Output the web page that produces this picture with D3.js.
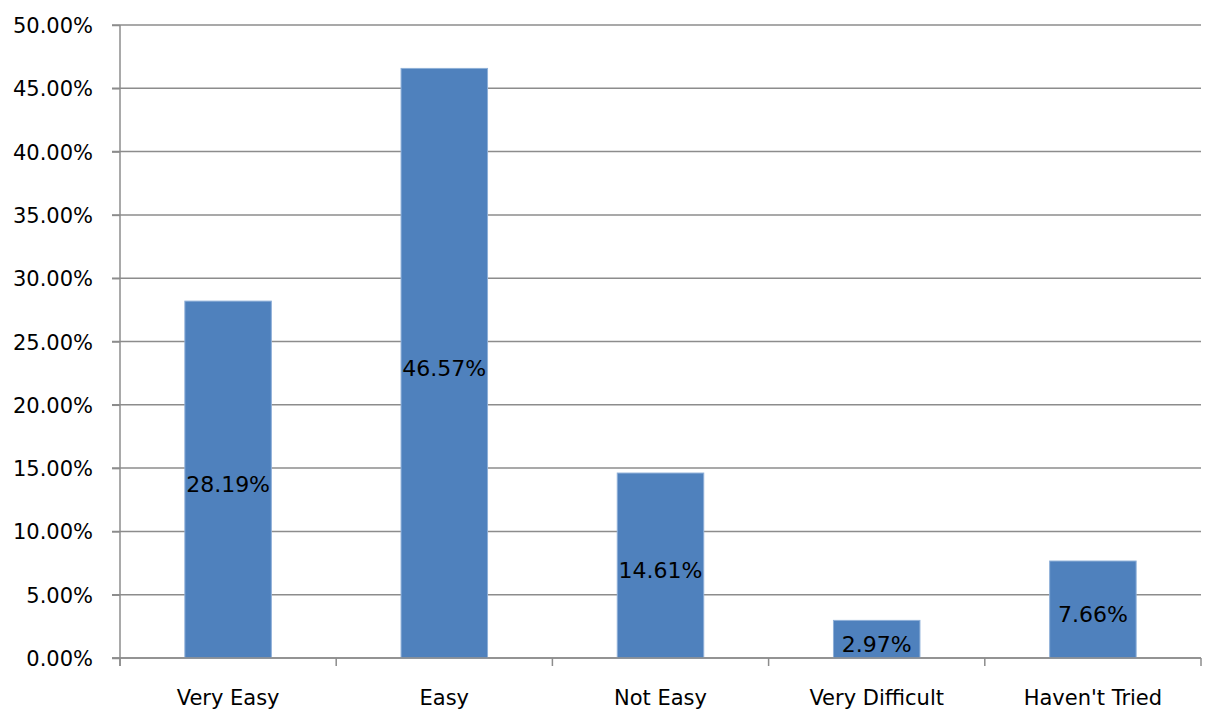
<!DOCTYPE html>
<html>
<head>
<meta charset="utf-8">
<script src="https://cdn.jsdelivr.net/npm/d3@7"></script>
<style>
  body { margin: 0; background: #fff; }
  text { font-family: "DejaVu Sans", sans-serif; fill: #000; }
</style>
</head>
<body>
<svg id="chart" width="1218" height="722"></svg>
<script>
var categories = ["Very Easy", "Easy", "Not Easy", "Very Difficult", "Haven't Tried"];
var values = [28.19, 46.57, 14.61, 2.97, 7.66];
var yTicks = [0, 5, 10, 15, 20, 25, 30, 35, 40, 45, 50];

var margin = { left: 120, right: 17, top: 25, bottom: 64 };
var width = 1218, height = 722;

var svg = d3.select("#chart");

var x = d3.scaleBand()
  .domain(categories)
  .range([margin.left, width - margin.right])
  .paddingInner(0.6)
  .paddingOuter(0.3);

var y = d3.scaleLinear()
  .domain([0, 50])
  .range([height - margin.bottom, margin.top]);

var gridColor = "#8c8c8c";

// gridlines
svg.append("g")
  .selectAll("line")
  .data(yTicks)
  .enter().append("line")
  .attr("x1", margin.left - 8)
  .attr("x2", width - margin.right)
  .attr("y1", function(d) { return y(d); })
  .attr("y2", function(d) { return y(d); })
  .attr("stroke", gridColor)
  .attr("stroke-width", 1.5);

// y axis
var yAxis = svg.append("g")
  .attr("transform", "translate(" + margin.left + ",0)")
  .call(d3.axisLeft(y).tickValues(yTicks).tickSize(8).tickPadding(19)
    .tickFormat(function(d) { return d.toFixed(2) + "%"; }));
yAxis.select(".domain").remove();
yAxis.selectAll(".tick line").attr("stroke", gridColor).attr("stroke-width", 1.5);
yAxis.selectAll("text").style("font-size", "21px").attr("dy", "0.36em");

svg.append("line")
  .attr("x1", margin.left).attr("x2", margin.left)
  .attr("y1", y(50)).attr("y2", y(0) + 8)
  .attr("stroke", gridColor).attr("stroke-width", 1.5);

// x axis tick marks at category boundaries
var bounds = categories.map(function(c) { return x(c) - x.step() * 0.3; });
bounds.push(width - margin.right);
svg.append("g")
  .selectAll("line")
  .data(bounds)
  .enter().append("line")
  .attr("x1", function(d) { return d; })
  .attr("x2", function(d) { return d; })
  .attr("y1", y(0))
  .attr("y2", y(0) + 8)
  .attr("stroke", gridColor)
  .attr("stroke-width", 1.5);

// x labels
svg.append("g")
  .selectAll("text")
  .data(categories)
  .enter().append("text")
  .attr("x", function(d) { return x(d) + x.bandwidth() / 2; })
  .attr("y", 705)
  .attr("text-anchor", "middle")
  .style("font-size", "21px")
  .text(function(d) { return d; });

// bars
svg.append("g")
  .selectAll("rect")
  .data(values)
  .enter().append("rect")
  .attr("x", function(d, i) { return x(categories[i]); })
  .attr("y", function(d) { return y(d); })
  .attr("width", x.bandwidth())
  .attr("height", function(d) { return y(0) - y(d); })
  .attr("fill", "#4f81bd")
  .attr("stroke", "#8eafd8")
  .attr("stroke-width", 1);

// bottom axis line over bars
svg.append("line")
  .attr("x1", margin.left - 8).attr("x2", width - margin.right)
  .attr("y1", y(0)).attr("y2", y(0))
  .attr("stroke", gridColor).attr("stroke-width", 1.5);

// data labels
svg.append("g")
  .selectAll("text")
  .data(values)
  .enter().append("text")
  .attr("x", function(d, i) { return x(categories[i]) + x.bandwidth() / 2; })
  .attr("y", function(d) { return (y(d) + y(0)) / 2; })
  .attr("dy", "0.56em")
  .attr("text-anchor", "middle")
  .style("font-size", "22px")
  .text(function(d) { return d.toFixed(2) + "%"; });
</script>
</body>
</html>
